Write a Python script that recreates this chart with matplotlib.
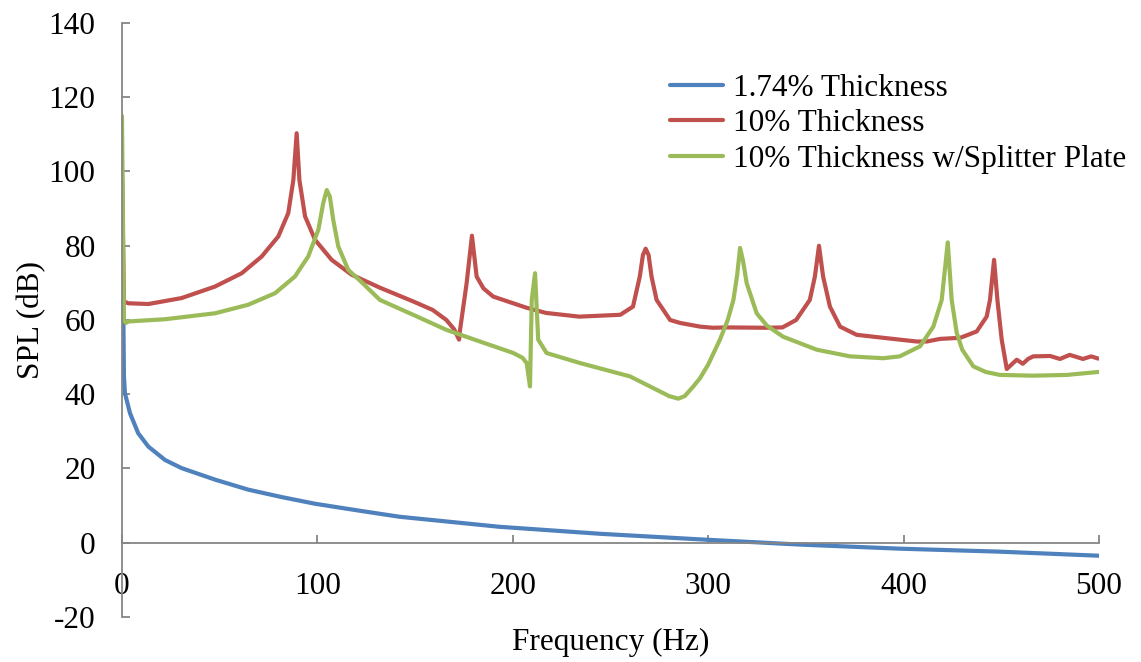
import matplotlib
matplotlib.use('Agg')
import matplotlib.pyplot as plt

plt.rcParams['font.family'] = ['Liberation Serif', 'DejaVu Serif']
plt.rcParams['axes.unicode_minus'] = False

# 1.74% Thickness
f_thin = [0, 1, 1.5, 4.1, 8.3, 13.5, 22, 30.5, 47.6, 64.6, 81.7, 98.8, 115.8, 124.4,
          142, 193, 245, 296, 347, 398, 449, 500]
spl_thin = [100, 45, 40.3, 34.9, 29.5, 25.9, 22.3, 20.1, 17, 14.3, 12.3, 10.5, 9.1, 8.4,
            7.0, 4.3, 2.4, 0.9, -0.5, -1.6, -2.4, -3.5]

# 10% Thickness
f_10 = [0, 1, 3.2, 13.5, 30.5, 47.6, 61.3, 71.5, 80, 85.1, 87.7, 89.4, 90.8, 93.7,
        98.8, 107.3, 117.5, 132, 149, 159, 166, 170, 172.5, 173, 176.4, 179.1, 181.5,
        185, 190, 207, 217, 234, 255, 261.5, 265, 266.6, 268, 269.5, 271, 273.6, 280.5,
        285.6, 296, 302.5, 309.5, 330, 338, 345, 352, 354.6, 356.7, 358.8, 362.3, 367.5,
        376, 389.5, 406.7, 411.8, 418.6, 429, 437.4, 442.5, 444.2, 446.3, 448, 450.2,
        452.8, 457.9, 461, 463.7, 466.3, 475, 480, 485, 491.8, 496, 499.6]
spl_10 = [100, 65, 64.5, 64.3, 65.9, 69, 72.6, 77.1, 82.5, 88.8, 97.7, 110.3, 97.7,
          87.9, 81.6, 76.2, 72.2, 68.7, 65, 62.7, 60, 57.5, 54.7, 57.3, 70, 82.7, 71.7,
          68.5, 66.3, 63.3, 61.9, 60.9, 61.4, 63.6, 71.7, 77.5, 79.2, 77.5, 71.7, 65.4,
          60, 59.2, 58.2, 57.9, 58, 57.9, 58, 60, 65.4, 71.7, 80, 71.7, 63.6, 58.2, 56,
          55.2, 54.2, 54.2, 54.9, 55.2, 56.9, 60.9, 65.4, 76.2, 65.4, 54.7, 46.8, 49.3,
          48.2, 49.5, 50.2, 50.3, 49.5, 50.6, 49.5, 50.2, 49.6]

# 10% Thickness w/Splitter Plate
f_sp = [0, 1, 2, 3.2, 22, 47.6, 64.6, 78.3, 88.5, 95.3, 100.5, 103, 104.8, 106.4,
        108.1, 110.7, 115.8, 122, 132, 149, 166.2, 183.2, 200.3, 205, 207.1, 208.8,
        209.7, 211.4, 213, 217.3, 234.4, 260, 273.6, 280, 284.7, 288, 292.4, 295.8,
        300, 306, 310, 312.9, 314.8, 316.3, 317.8, 319.7, 324.8, 330, 338.3, 355.5,
        372.6, 389.5, 398, 408.4, 415.2, 419.5, 422.6, 424.6, 427.2, 430, 435.7, 442,
        449.3, 466.3, 483.5, 499.6]
spl_sp = [115, 60, 59.2, 59.6, 60.2, 61.8, 64.1, 67.2, 71.7, 77.1, 84.3, 91.5, 95, 93.2,
          87, 79.8, 73.5, 70.5, 65.4, 61.4, 57.3, 54.2, 51.1, 49.8, 48.4, 42.1, 65.4,
          72.6, 54.7, 51.1, 48.4, 44.8, 41.2, 39.5, 38.8, 39.5, 42.1, 44.3, 48, 54.7, 60,
          65.4, 72, 79.4, 76, 69.9, 61.8, 58.5, 55.5, 52, 50.2, 49.7, 50.2, 52.9, 58.2,
          65.4, 80.9, 65.4, 56.5, 52, 47.5, 46, 45.2, 45, 45.2, 46]

labels = ['1.74% Thickness', '10% Thickness', '10% Thickness w/Splitter Plate']
colors = ['#4F81BD', '#C0504D', '#9BBB59']

fig = plt.figure(figsize=(11.41, 6.62), dpi=100)
ax = fig.add_axes([0.1069, 0.068, 0.8563, 0.8973])

for fx, sy, lab, col in zip([f_thin, f_10, f_sp], [spl_thin, spl_10, spl_sp], labels, colors):
    ax.plot(fx, sy, color=col, lw=3.0, label=lab, solid_joinstyle='round',
            solid_capstyle='round')

ax.set_xlim(0, 500)
ax.set_ylim(-20, 140)
ax.set_xticks(range(0, 501, 100))
ax.set_yticks(range(-20, 141, 20))

gray = '#868686'
ax.spines['top'].set_visible(False)
ax.spines['right'].set_visible(False)
ax.spines['bottom'].set_position(('data', 0))
for s in ['left', 'bottom']:
    ax.spines[s].set_color(gray)
    ax.spines[s].set_linewidth(1.3)
ax.tick_params(axis='both', direction='in', length=6, width=1.3, color=gray,
               labelsize=22.5)
ax.tick_params(axis='y', pad=19)
ax.tick_params(axis='x', pad=21)

ax.set_xlabel('Frequency (Hz)', fontsize=22.5)
ax.set_ylabel('SPL (dB)', fontsize=22.5)
ax.xaxis.set_label_coords(0.5, -0.018)
ax.yaxis.set_label_coords(-0.078, 0.5)

ax.legend(loc='upper left', bbox_to_anchor=(0.561, 0.914), frameon=False,
          fontsize=22.5, borderpad=0, borderaxespad=0, handlelength=1.7,
          handletextpad=0.3, labelspacing=0.2)

fig.savefig('out.png', dpi=100)
